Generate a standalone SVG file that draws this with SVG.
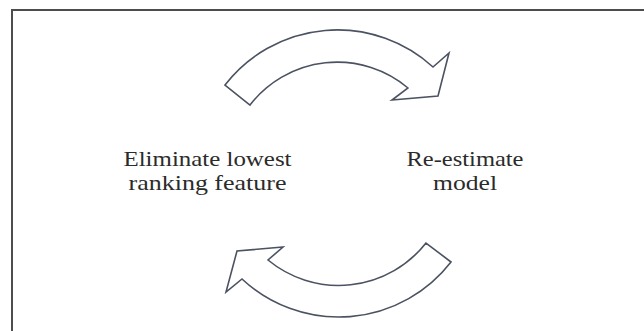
<svg xmlns="http://www.w3.org/2000/svg" width="644" height="331" viewBox="0 0 644 331">
  <style>
    .frame { fill: none; stroke: #4d4d4d; stroke-width: 2; }
    .cycle-arrow { fill: #ffffff; stroke: #4b5261; stroke-width: 1.6; stroke-linejoin: miter; }
    .label { font-family: "Liberation Serif", "Times New Roman", serif; font-size: 21px; fill: #2b2b2b; text-anchor: middle; }
  </style>
  <rect width="644" height="331" fill="#ffffff"/>
  <!-- outer frame running off the right and bottom edges -->
  <rect class="frame" x="12" y="10" width="660" height="340"/>

  <g id="connectors">
    <!-- upper curved arrow: left step feeds the right step -->
    <path id="arrow-top" class="cycle-arrow"
          d="M 225,85 A 142 142 0 0 1 433,67 L 449,53 L 438,96 L 392,100 L 408,88 A 110 110 0 0 0 250,105 Z"/>
    <!-- lower curved arrow: right step feeds back to the left step -->
    <path id="arrow-bottom" class="cycle-arrow"
          d="M 426,243 A 111 111 0 0 1 268,260 L 283,247 L 237,251 L 226,292 L 242,279 A 142 142 0 0 0 451,262 Z"/>
  </g>

  <g id="node-eliminate">
    <text class="label" x="207.5" y="166" textLength="168" lengthAdjust="spacingAndGlyphs">Eliminate lowest</text>
    <text class="label" x="207.5" y="190" textLength="158" lengthAdjust="spacingAndGlyphs">ranking feature</text>
  </g>

  <g id="node-reestimate">
    <text class="label" x="465" y="166" textLength="117" lengthAdjust="spacingAndGlyphs">Re-estimate</text>
    <text class="label" x="465" y="190" textLength="64" lengthAdjust="spacingAndGlyphs">model</text>
  </g>
</svg>
